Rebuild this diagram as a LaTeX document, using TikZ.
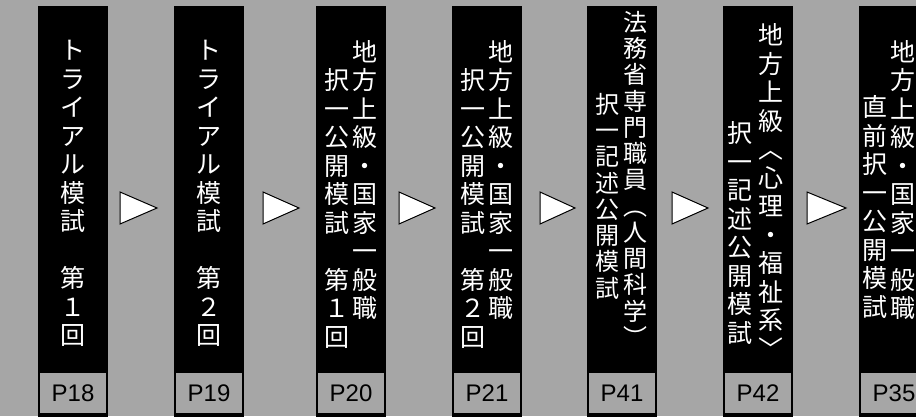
\documentclass[tikz,border=0pt]{standalone}
\usepackage{fontspec}
\setmainfont{Liberation Sans}
\newfontfamily\jpfont{Noto Sans CJK JP}
\newcommand{\jpcol}{\jpfont\fontsize{25}{28.5}\selectfont}
\newcommand{\jptight}{\jpfont\fontsize{24}{26.25}\selectfont}
\definecolor{bggray}{HTML}{A6A6A6}

\begin{document}
\begin{tikzpicture}[x=1pt, y=-1pt,
  card/.style={fill=black, minimum width=70pt, minimum height=412pt, inner sep=0pt},
  jcol/.style={text=white, font=\jpcol, align=center, anchor=north, inner sep=0pt},
  pagetag/.style={fill=bggray, minimum width=66pt, minimum height=40pt, inner sep=0pt, font=\fontsize{24}{28}\selectfont},
  nextmark/.style={draw=black, fill=white, line width=1pt, line join=miter}]

  \useasboundingbox (0,0) rectangle (916,416);
  \fill[bggray] (0,0) rectangle (916,416);

  \node (trial-1) at (73, 212) [card] {};
  \node (trial-1-text) at (73, 40) [jcol] {ト\\ラ\\イ\\ア\\ル\\模\\試\\[28.5pt]第\\１\\回};
  \node (trial-1-page) at (73, 393) [pagetag] {P18};

  \node (trial-2) at (209, 212) [card] {};
  \node (trial-2-text) at (209, 40) [jcol] {ト\\ラ\\イ\\ア\\ル\\模\\試\\[28.5pt]第\\２\\回};
  \node (trial-2-page) at (209, 393) [pagetag] {P19};

  \node (chiho-1) at (351, 212) [card] {};
  \node (chiho-1-left) at (337, 68.5) [jcol] {択\\一\\公\\開\\模\\試\\[28.5pt]第\\１\\回};
  \node (chiho-1-right) at (365, 40) [jcol] {地\\方\\上\\級\\・\\国\\家\\一\\般\\職};
  \node (chiho-1-page) at (351, 393) [pagetag] {P20};

  \node (chiho-2) at (487, 212) [card] {};
  \node (chiho-2-left) at (473, 68.5) [jcol] {択\\一\\公\\開\\模\\試\\[28.5pt]第\\２\\回};
  \node (chiho-2-right) at (501, 40) [jcol] {地\\方\\上\\級\\・\\国\\家\\一\\般\\職};
  \node (chiho-2-page) at (487, 393) [pagetag] {P21};

  \node (homu) at (622, 212) [card] {};
  \node (homu-left) at (607, 93) [jcol, font=\jptight] {択\\一\\記\\述\\公\\開\\模\\試};
  \node (homu-right) at (635, 11) [jcol, font=\jptight] {法\\務\\省\\専\\門\\職\\員\\︵\\人\\間\\科\\学\\︶};
  \node (homu-page) at (622, 393) [pagetag] {P41};

  \node (shinri) at (758, 212) [card] {};
  \node (shinri-left) at (740, 121.5) [jcol] {択\\一\\記\\述\\公\\開\\模\\試};
  \node (shinri-right) at (771, 23.5) [jcol] {地\\方\\上\\級\\︿\\心\\理\\・\\福\\祉\\系\\﹀};
  \node (shinri-page) at (758, 393) [pagetag] {P42};

  \node (chokuzen) at (894, 212) [card] {};
  \node (chokuzen-left) at (875, 95.5) [jcol] {直\\前\\択\\一\\公\\開\\模\\試};
  \node (chokuzen-right) at (903, 40) [jcol] {地\\方\\上\\級\\・\\国\\家\\一\\般\\職};
  \node (chokuzen-page) at (894, 393) [pagetag] {P35};

  \draw[nextmark] (120,192) -- (157,208) -- (120,224) -- cycle;
  \draw[nextmark] (263,192) -- (299,208) -- (263,224) -- cycle;
  \draw[nextmark] (399,192) -- (435,208) -- (399,224) -- cycle;
  \draw[nextmark] (540,192) -- (575,208) -- (540,224) -- cycle;
  \draw[nextmark] (672,192) -- (708,208) -- (672,224) -- cycle;
  \draw[nextmark] (807,192) -- (846,208) -- (807,224) -- cycle;

\end{tikzpicture}
\end{document}
